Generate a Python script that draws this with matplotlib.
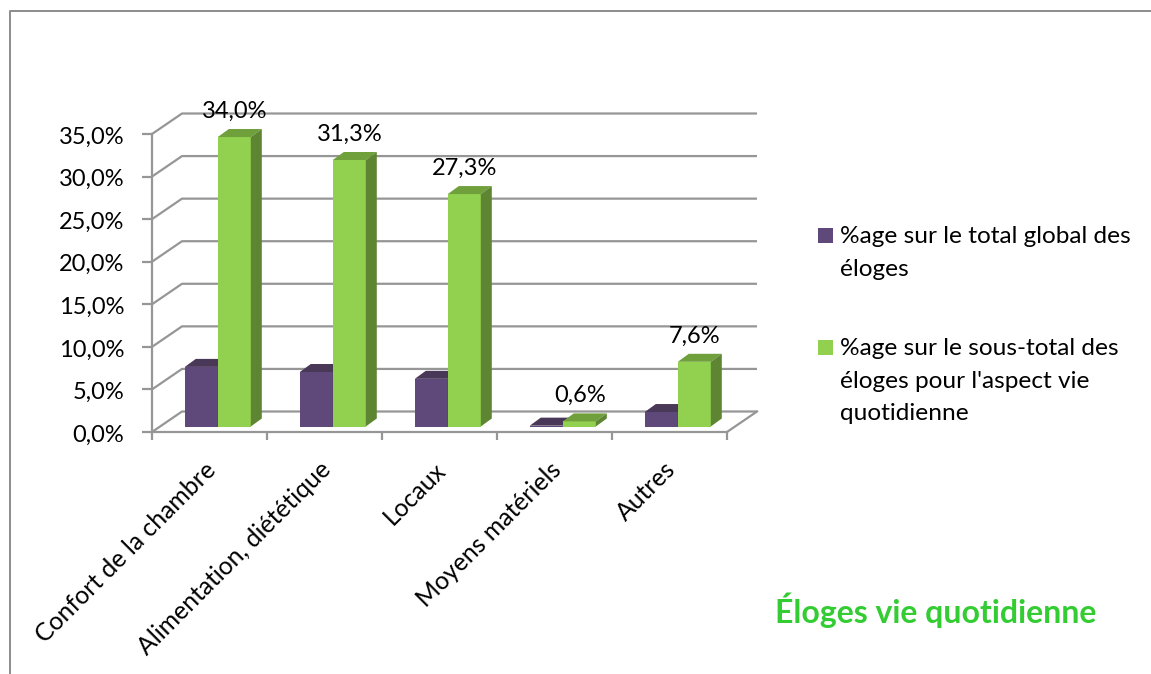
#Recreate the 3D look column chart of the eloges vie quotidienne
import matplotlib
matplotlib.use('Agg')
import matplotlib.pyplot as pyplot
from matplotlib.lines import Line2D
from matplotlib.patches import Rectangle
from matplotlib.transforms import ScaledTranslation

#######################
###Data###
#######################
categories = ['Confort de la chambre', 'Alimentation, diététique', 'Locaux', 'Moyens matériels', 'Autres']
totalGlobal = [7.0, 6.4, 5.6, 0.1, 1.7]
sousTotal = [34.0, 31.3, 27.3, 0.6, 7.6]
yTicks = [0, 5, 10, 15, 20, 25, 30, 35]
legendLabels = ['%age sur le total global des\néloges',
                "%age sur le sous-total des\néloges pour l'aspect vie\nquotidienne"]
chartTitle = 'Éloges vie quotidienne'

W, H = 1151, 674
X0, X1, Y0, Y35 = 152, 727, 432, 134
pxPerCat = (X1 - X0) / 5
pxPerPct = (Y0 - Y35) / 35
fontName = 'Lato'
labelSize = 17
catSize = 17.8
legendSize = 17.6

gridCol = '#969696'
purple, purpleTop = '#5F497A', '#4A3858'
green, greenTop, greenSide = '#92D050', '#6FA03C', '#5E8632'

pyplot.rcParams['font.family'] = fontName


def fx(x):
    return x / W


def fy(y):
    return 1 - y / H


fig = pyplot.figure(figsize=(W / 100, H / 100), dpi=100)
ax = fig.add_axes([fx(X0), fy(Y0), (X1 - X0) / W, (Y0 - Y35) / H])
ax.set_xlim(0, 5)
ax.set_ylim(0, 35)
ax.patch.set_visible(False)

#depth of the box and of the bars, in data units
wallDx, wallDy = 30 / pxPerCat, 20.5 / pxPerPct
barDx, barDy = 11 / pxPerCat, 8 / pxPerPct
barBase = 5.5 / pxPerPct
barW = 33 / pxPerCat
barOff = 32.8 / pxPerCat

#back wall and floor
for t in yTicks:
    ax.plot([0, wallDx, 5 + wallDx], [t, t + wallDy, t + wallDy], color=gridCol, lw=1.6,
            clip_on=False, zorder=1, solid_capstyle='butt')
ax.plot([5, 5 + wallDx], [0, wallDy], color=gridCol, lw=1.6, clip_on=False, zorder=1)

#bars
def draw_bar(x, val, face, top, side):
    ax.bar(x, val, barW, bottom=barBase, align='edge', color=face, clip_on=False, zorder=3)
    ytop = barBase + val
    ax.fill([x, x + barDx, x + barW + barDx, x + barW], [ytop, ytop + barDy, ytop + barDy, ytop],
            color=top, lw=0, clip_on=False, zorder=3)
    ax.fill([x + barW, x + barW + barDx, x + barW + barDx, x + barW],
            [barBase, barBase + barDy, ytop + barDy, ytop], color=side, lw=0, clip_on=False, zorder=3)


for i, name in enumerate(categories):
    draw_bar(i + barOff, totalGlobal[i], purple, purpleTop, purpleTop)
    draw_bar(i + barOff + barW, sousTotal[i], green, greenTop, greenSide)
    ax.annotate(('%.1f%%' % sousTotal[i]).replace('.', ','),
                (i + barOff + barW + barW / 2, barBase + sousTotal[i]),
                xytext=(0.5, 18.5), textcoords='offset points', ha='center', va='center',
                fontsize=labelSize, color='black', zorder=5, annotation_clip=False)
    ax.annotate(name, (i + 0.5, 0), xytext=(-4, -18.5), textcoords='offset points', rotation=45,
                rotation_mode='anchor', ha='right', va='top', fontsize=catSize, color='black',
                annotation_clip=False)

#axes
for s in ['top', 'right']:
    ax.spines[s].set_visible(False)
for s in ['left', 'bottom']:
    ax.spines[s].set_color(gridCol)
    ax.spines[s].set_linewidth(1.6)
ax.set_yticks(yTicks)
ax.set_yticklabels([('%.1f%%' % t).replace('.', ',') for t in yTicks], fontsize=labelSize)
ax.set_xticks(range(6))
ax.set_xticklabels([])
ax.tick_params(axis='y', length=7, width=1.6, color=gridCol, pad=13)
ax.tick_params(axis='x', length=5.5, width=1.6, color=gridCol)
#labels sit a little lower than the ticks
for lab in ax.get_yticklabels():
    lab.set_transform(lab.get_transform() + ScaledTranslation(0, -1 / 100, fig.dpi_scale_trans))

#legend, drawn by hand because of the multi line labels
for ytop, col, lab, ytxt in [(228, purple, legendLabels[0], 226), (340, green, legendLabels[1], 338)]:
    fig.add_artist(Rectangle((fx(818), fy(ytop + 15)), 15 / W, 15 / H, color=col, lw=0))
    fig.text(fx(840), fy(ytxt), lab, fontsize=legendSize, va='top', ha='left', linespacing=1.68)

fig.text(fx(775), fy(610), chartTitle, fontsize=23, fontweight='bold', color='#33CC33',
         va='center', ha='left')

#chart frame, only top and left visible
fig.add_artist(Line2D([fx(10), fx(10), 1], [0, fy(11), fy(11)], color='#8c8c8c', lw=1.4))

fig.savefig('out.png', dpi=100)
